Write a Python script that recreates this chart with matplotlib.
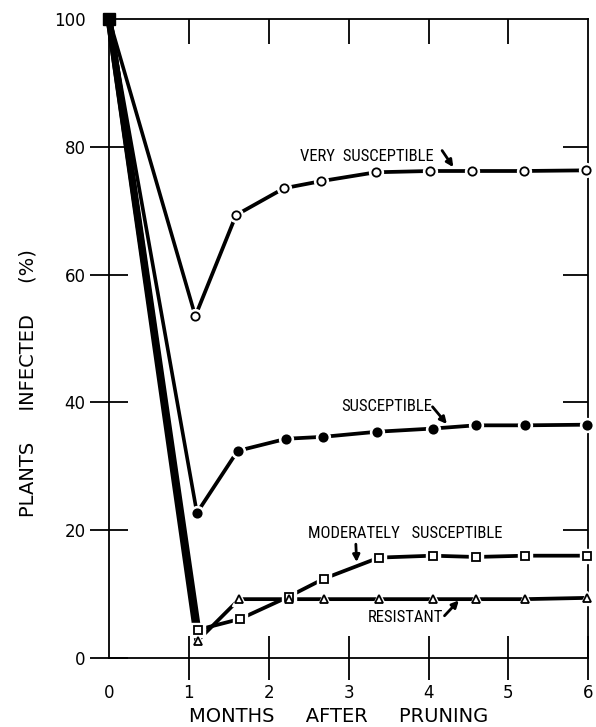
import matplotlib.pyplot as plt
from matplotlib import font_manager

# months after pruning / percent infected
vs_x = [0, 1.08, 1.59, 2.19, 2.65, 3.34, 4.02, 4.55, 5.19, 5.97]
vs_y = [100, 53.5, 69.3, 73.5, 74.6, 76.0, 76.2, 76.2, 76.2, 76.3]

su_x = [0, 1.1, 1.61, 2.22, 2.68, 3.36, 4.06, 4.59, 5.21, 5.98]
su_y = [100, 22.7, 32.4, 34.3, 34.6, 35.4, 35.9, 36.4, 36.4, 36.5]

mo_x = [0, 1.11, 1.64, 2.25, 2.69, 3.38, 4.05, 4.59, 5.21, 5.99]
mo_y = [100, 4.4, 6.1, 9.6, 12.4, 15.7, 16.0, 15.8, 16.0, 16.0]

re_x = [0, 1.11, 1.63, 2.25, 2.69, 3.38, 4.05, 4.59, 5.21, 5.99]
re_y = [100, 2.7, 9.2, 9.2, 9.2, 9.2, 9.2, 9.2, 9.2, 9.4]

x_ticks = [0, 1, 2, 3, 4, 5, 6]
x_ticklabels = ['0', '1', '2', '3', '4', '5', '6']
y_ticks = [0, 20, 40, 60, 80, 100]

# narrow lettering for the curve labels, if one is around
names = {f.name for f in font_manager.fontManager.ttflist}
narrow = [n for n in ['Liberation Sans Narrow', 'DejaVu Sans Condensed', 'Roboto Condensed',
                      'Open Sans Condensed'] if n in names]
lab_font = narrow + ['DejaVu Sans']

fig = plt.figure(figsize=(5.96, 7.27), dpi=100)
ax = fig.add_axes([0.183, 0.095, 0.804, 0.879])

lw = 2.7


def draw_series(xs, ys, marker, ms, face, first_lw):
    # first drop from 100% is drawn separately (heavier for the low series)
    ax.plot(xs[:2], ys[:2], color='k', lw=first_lw, zorder=2, solid_capstyle='butt', clip_on=False)
    ax.plot(xs[1:], ys[1:], color='k', lw=lw, zorder=2, solid_capstyle='butt', clip_on=False)
    # white halo gives the small gap between line and symbol
    ax.plot(xs[1:], ys[1:], ls='none', marker=marker, ms=ms + 4, mfc='white', mec='white',
            zorder=3, clip_on=False)
    ax.plot(xs[1:], ys[1:], ls='none', marker=marker, ms=ms, mfc=face, mec='k', mew=1.3,
            zorder=4, clip_on=False)


draw_series(vs_x, vs_y, 'o', 6, 'white', 2.6)
draw_series(su_x, su_y, 'o', 6, 'black', 2.6)
draw_series(mo_x, mo_y, 's', 5.5, 'white', 5.0)
draw_series(re_x, re_y, '^', 6, 'white', 5.0)

# starting point
ax.plot([0], [100], marker='s', ms=8, color='k', zorder=5, clip_on=False)

ax.set_xlim(0, 6)
ax.set_ylim(0, 100)

for s in ax.spines.values():
    s.set_linewidth(1.3)

ax.set_xticks(x_ticks)
ax.set_xticklabels(x_ticklabels)
ax.set_yticks(y_ticks)
ax.tick_params(axis='x', which='both', direction='inout', length=31, width=1.3,
               top=True, labelsize=12, pad=3)
ax.tick_params(axis='y', which='both', direction='inout', length=28, width=1.3,
               right=True, labelsize=12, pad=3)

# top and right ticks point only inward; hide the zero ticks there
for t in ax.xaxis.get_major_ticks():
    t.tick2line.set_marker(3)
    t.tick2line.set_markersize(18)
for t in ax.yaxis.get_major_ticks():
    t.tick2line.set_marker(0)
    t.tick2line.set_markersize(18)
ax.xaxis.get_major_ticks()[0].tick2line.set_visible(False)
ax.xaxis.get_major_ticks()[-1].tick2line.set_visible(False)
ax.yaxis.get_major_ticks()[0].tick2line.set_visible(False)
ax.yaxis.get_major_ticks()[-1].tick2line.set_visible(False)
ax.yaxis.get_major_ticks()[-1].tick1line.set_visible(False)
ax.xaxis.get_major_ticks()[0].tick1line.set_visible(False)

ax.set_xlabel('MONTHS     AFTER     PRUNING', fontsize=14)
ax.xaxis.set_label_coords(0.48, -0.077)
ax.set_ylabel('PLANTS     INFECTED     (%)', fontsize=14)
ax.yaxis.set_label_coords(-0.15, 0.43)

lab_size = 12 if narrow else 9.5
arrow = dict(arrowstyle='-|>', lw=2.0, color='k', mutation_scale=10, shrinkA=0, shrinkB=0)

ax.text(2.39, 78.4, 'VERY  SUSCEPTIBLE', family=lab_font, fontsize=lab_size, va='center')
ax.annotate('', xy=(4.31, 76.8), xytext=(4.17, 79.4), arrowprops=arrow)

ax.text(2.91, 39.3, 'SUSCEPTIBLE', family=lab_font, fontsize=lab_size, va='center')
ax.annotate('', xy=(4.23, 36.6), xytext=(4.05, 39.3), arrowprops=arrow)

ax.text(2.49, 19.4, 'MODERATELY   SUSCEPTIBLE', family=lab_font, fontsize=lab_size, va='center')
ax.annotate('', xy=(3.1, 15.0), xytext=(3.09, 17.8), arrowprops=arrow)

ax.text(3.24, 6.4, 'RESISTANT', family=lab_font, fontsize=lab_size, va='center')
ax.annotate('', xy=(4.38, 9.0), xytext=(4.2, 6.6), arrowprops=arrow)

fig.savefig('out.png', dpi=100)
